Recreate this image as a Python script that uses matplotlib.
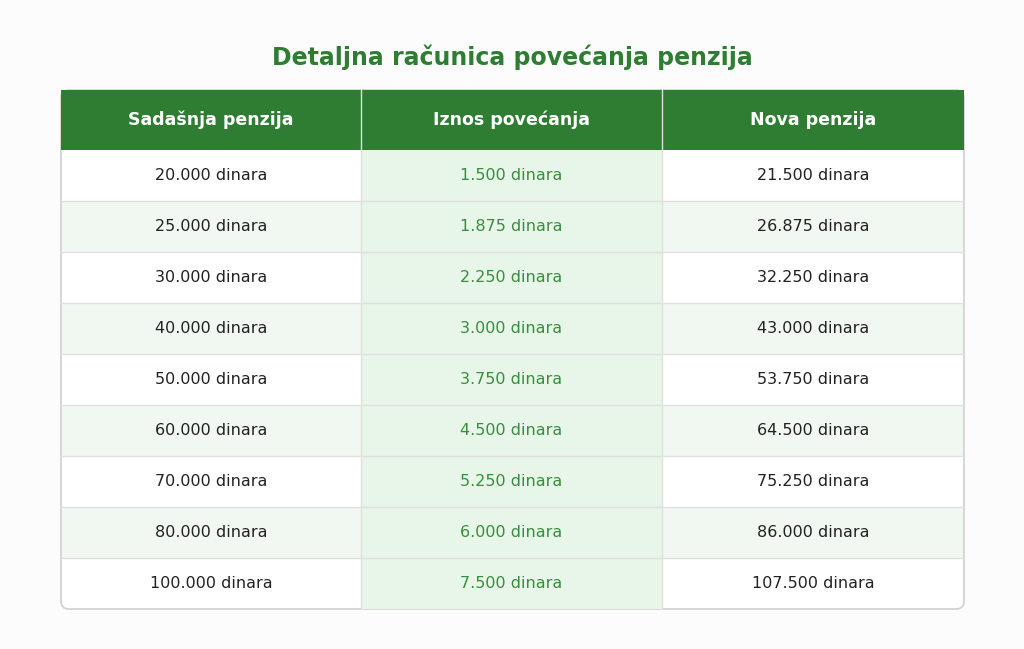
import matplotlib.pyplot as plt
from matplotlib.patches import Rectangle, FancyBboxPatch

plt.rcParams['font.family'] = ['DejaVu Sans']

title = "Detaljna računica povećanja penzija"
headers = ["Sadašnja penzija", "Iznos povećanja", "Nova penzija"]
current = ["20.000", "25.000", "30.000", "40.000", "50.000", "60.000", "70.000", "80.000", "100.000"]
increase = ["1.500", "1.875", "2.250", "3.000", "3.750", "4.500", "5.250", "6.000", "7.500"]
new = ["21.500", "26.875", "32.250", "43.000", "53.750", "64.500", "75.250", "86.000", "107.500"]

green = "#2e7d32"
fig = plt.figure(figsize=(10.24, 6.49), dpi=100)
fig.patch.set_facecolor("#fcfcfc")
ax = fig.add_axes([0, 0, 1, 1])
ax.set_xlim(0, 1024)
ax.set_ylim(649, 0)
ax.axis("off")

x0, x1 = 61, 964
cols = [61, 361, 662, 964]
top, hh, rh = 90, 60, 51
n = len(current)
bottom = top + hh + n * rh

ax.add_patch(FancyBboxPatch((x0, top), x1 - x0, bottom - top,
                            boxstyle="round,pad=0,rounding_size=8",
                            fc="white", ec="#d0d0d0", lw=1.2, zorder=1))
ax.add_patch(Rectangle((x0, top), x1 - x0, hh, fc=green, ec="none", zorder=2))
for c in range(3):
    cx = (cols[c] + cols[c + 1]) / 2
    ax.text(cx, top + hh / 2, headers[c], color="white", fontsize=12.5,
            fontweight="bold", ha="center", va="center", zorder=5)

for r in range(n):
    y = top + hh + r * rh
    if r % 2 == 1:
        ax.add_patch(Rectangle((x0 + 1, y), x1 - x0 - 2, rh, fc="#f1f8f1", ec="none", zorder=2))
    ax.add_patch(Rectangle((cols[1], y), cols[2] - cols[1], rh, fc="#e8f5e9", ec="none", zorder=2))
    if r > 0:
        ax.plot([x0, x1], [y, y], color="#e0e0e0", lw=1, zorder=3)
    vals = [current[r], increase[r], new[r]]
    for c in range(3):
        cx = (cols[c] + cols[c + 1]) / 2
        ax.text(cx, y + rh / 2, vals[c] + " dinara", fontsize=11.5,
                color="#388e3c" if c == 1 else "#222222",
                ha="center", va="center", zorder=5)

for xc in cols[1:3]:
    ax.plot([xc, xc], [top, bottom], color="#e0e0e0", lw=1, zorder=4)

ax.text(512, 57, title, color=green, fontsize=17, fontweight="bold",
        ha="center", va="center")

fig.savefig("out.png", dpi=100, facecolor=fig.get_facecolor())
